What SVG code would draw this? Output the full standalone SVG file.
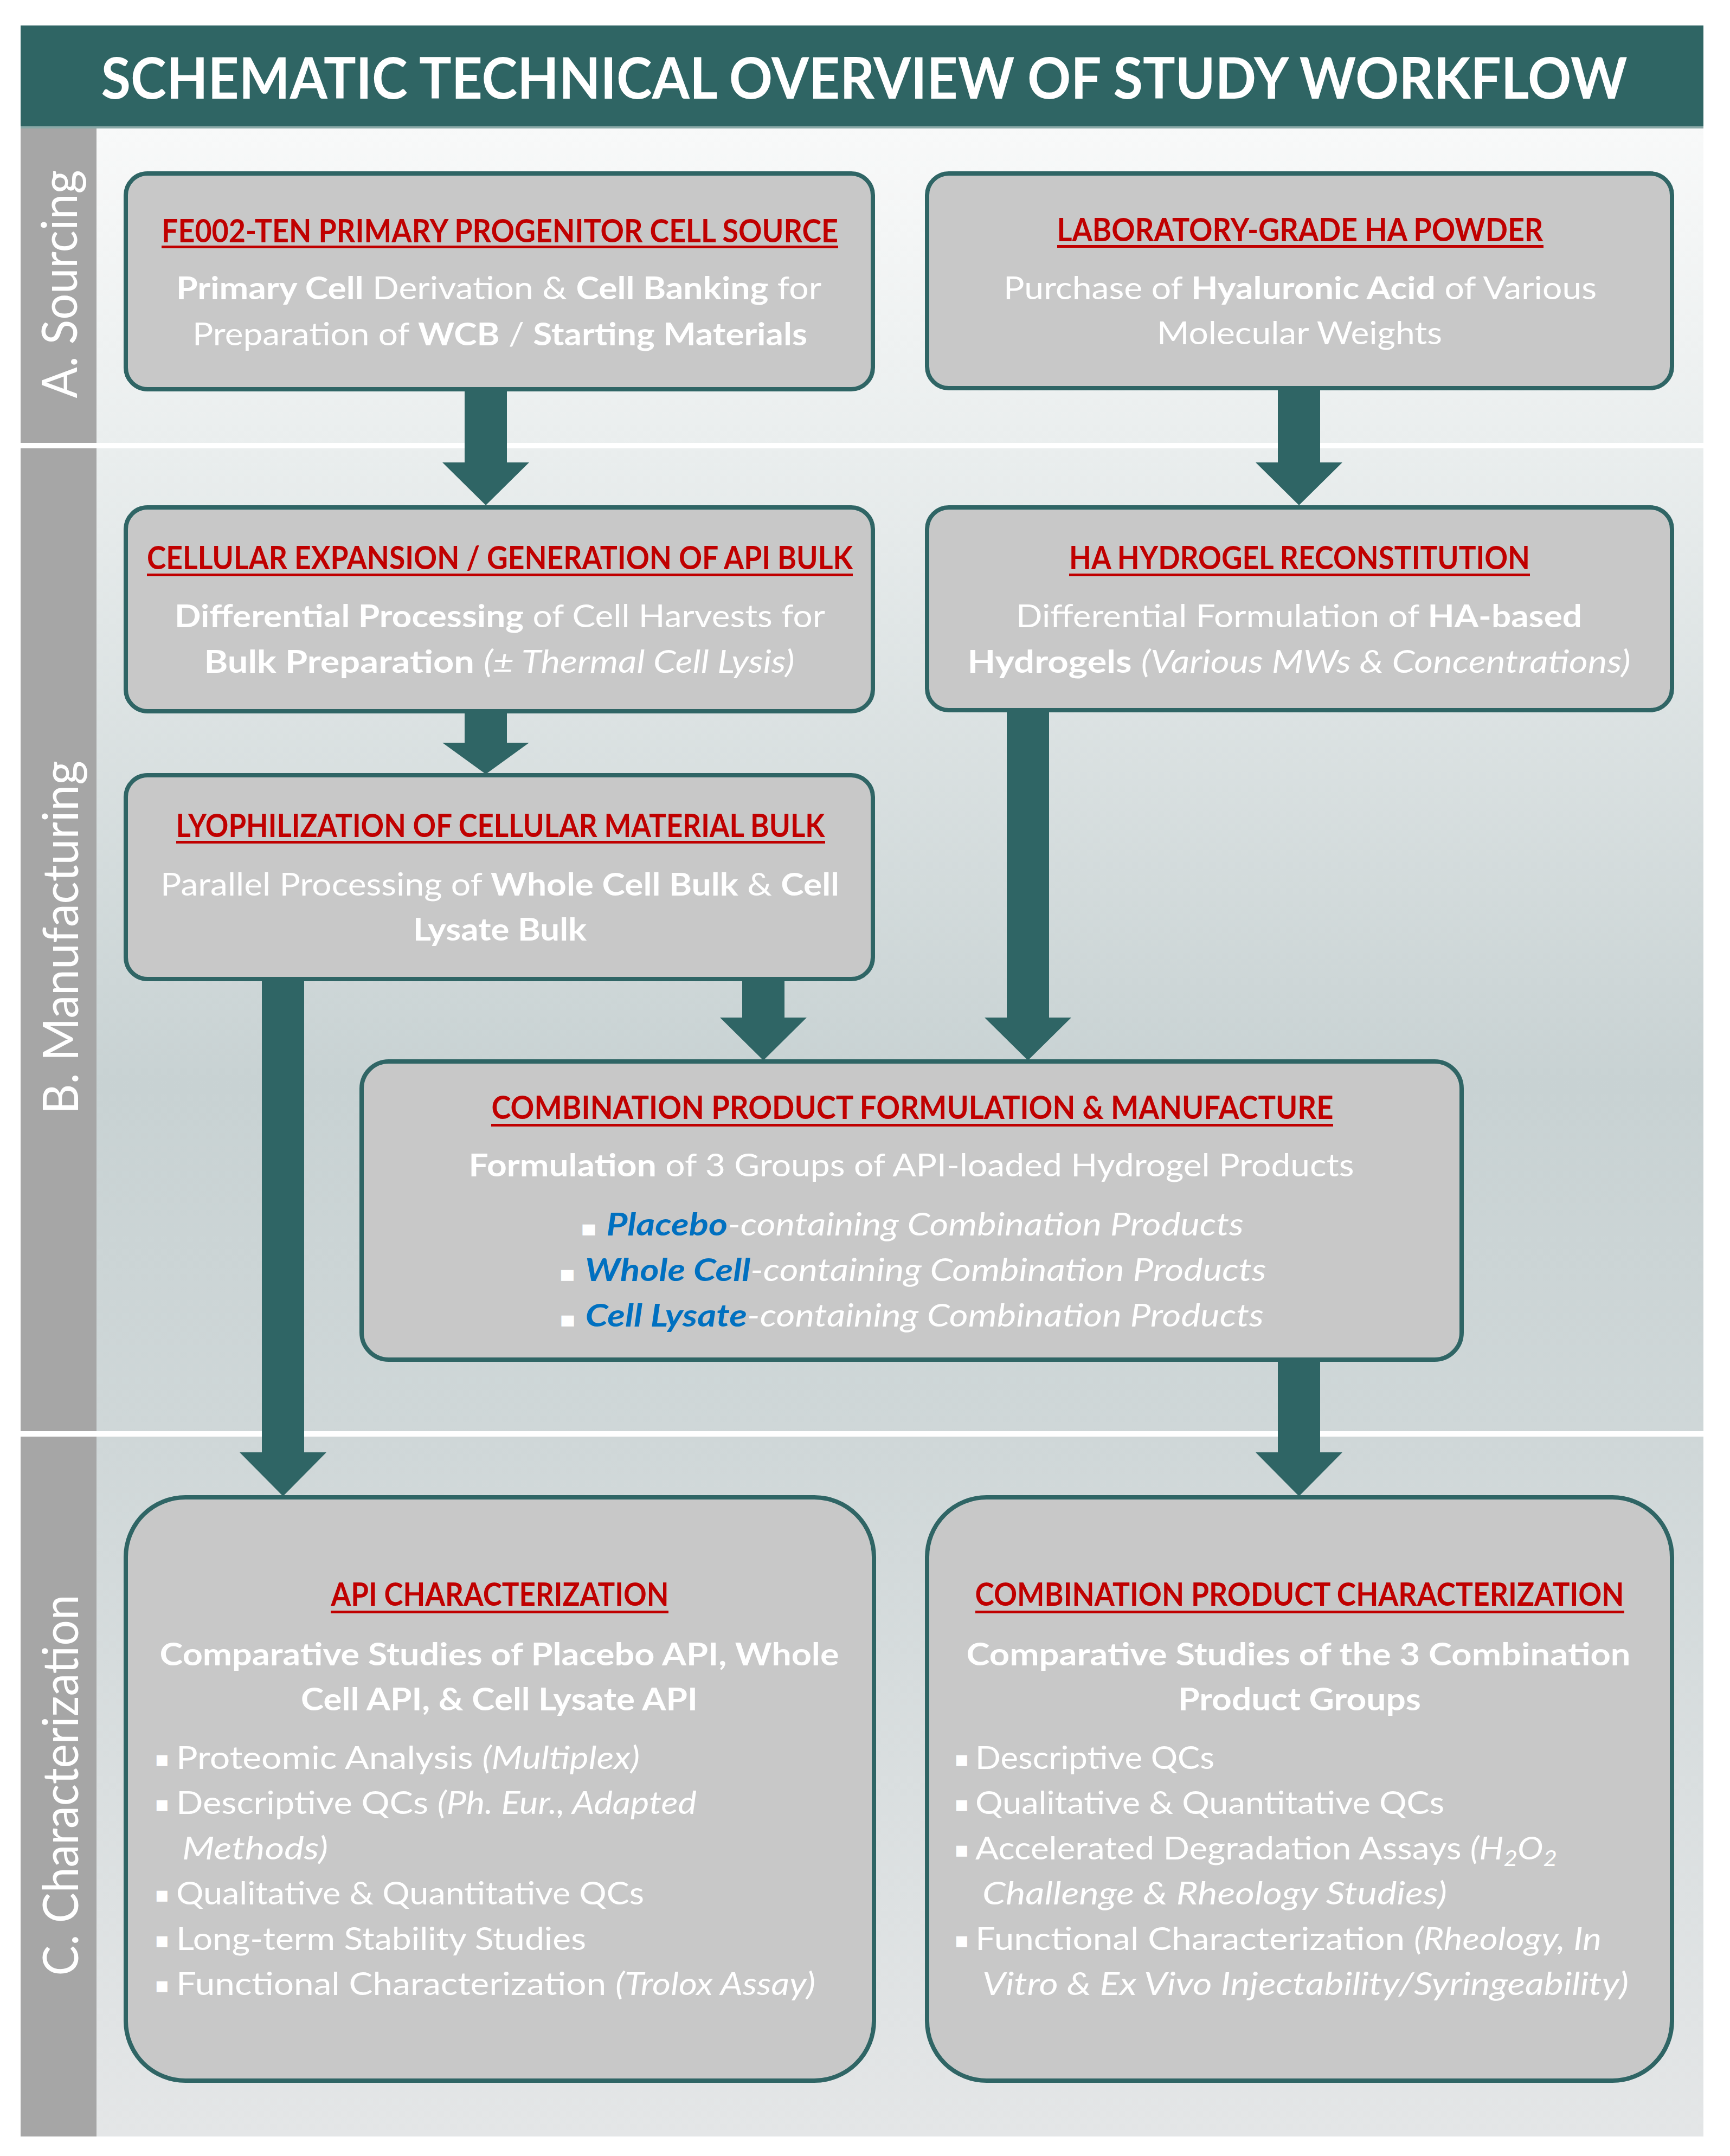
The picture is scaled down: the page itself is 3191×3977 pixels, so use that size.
<svg xmlns="http://www.w3.org/2000/svg" width="3191" height="3977" viewBox="0 0 3191 3977">
<defs>
<linearGradient id="bg" gradientUnits="userSpaceOnUse" x1="0" y1="236" x2="0" y2="3941">
<stop offset="0" stop-color="#f8f9f9"/>
<stop offset="0.158" stop-color="#eaeeee"/>
<stop offset="0.476" stop-color="#c8d2d3"/>
<stop offset="0.65" stop-color="#cfd7d8"/>
<stop offset="1" stop-color="#e4e6e7"/>
</linearGradient>
<style>
.t{font-family:Lato,'Open Sans',sans-serif;fill:#ffffff;font-size:58px}
.b{font-weight:700}
.i{font-style:italic}
.h{font-family:Lato,'Open Sans',sans-serif;font-weight:700;fill:#c00000;font-size:60px}
.bl{fill:#0070c0;font-weight:700;font-style:italic}
.box{fill:#c8c8c8;stroke:#2f6565;stroke-width:8}
.arrow{fill:#2f6565}
.ul{fill:#c00000}
.lab{font-family:Lato,'Noto Sans',sans-serif;fill:#ffffff;font-size:92px}
.bu{font-family:'DejaVu Sans',sans-serif;font-size:40px;fill:#ffffff}
.sub{font-size:40px}
</style>
</defs>
<rect x="0" y="0" width="3191" height="3977" fill="#ffffff"/>
<g id="background">
<rect x="38" y="236" width="3104" height="3705" fill="url(#bg)"/>
<rect x="38" y="236" width="140" height="581" fill="#a6a6a6"/>
<rect x="38" y="827" width="140" height="1813" fill="#a6a6a6"/>
<rect x="38" y="2650" width="140" height="1291" fill="#a6a6a6"/>
<rect x="38" y="817" width="3104" height="10" fill="#ffffff"/>
<rect x="38" y="2640" width="3104" height="10" fill="#ffffff"/>
</g>
<g id="header">
<rect x="38" y="47" width="3104" height="188" fill="#2f6564"/>
<rect x="38" y="233" width="3104" height="4" fill="#8aa9a7"/>
<text x="1594" y="182" text-anchor="middle" textLength="2815" lengthAdjust="spacingAndGlyphs" style="font-family:Lato,'Noto Sans',sans-serif;font-weight:700;font-size:106px;fill:#ffffff">SCHEMATIC TECHNICAL OVERVIEW OF STUDY WORKFLOW</text>
</g>
<g id="section-labels">
<text class="lab" transform="translate(142,524) rotate(-90)" text-anchor="middle" textLength="421" lengthAdjust="spacingAndGlyphs">A. Sourcing</text>
<text class="lab" transform="translate(144,1729) rotate(-90)" text-anchor="middle" textLength="652" lengthAdjust="spacingAndGlyphs">B. Manufacturing</text>
<text class="lab" transform="translate(144,3293) rotate(-90)" text-anchor="middle" textLength="703" lengthAdjust="spacingAndGlyphs">C. Characterization</text>
</g>
<g id="connectors">
<polygon class="arrow" points="857,718 935,718 935,853 976,853 896,932 816,853 857,853"/>
<polygon class="arrow" points="2357,716 2435,716 2435,853 2476,853 2396,932 2316,853 2357,853"/>
<polygon class="arrow" points="857,1312 935,1312 935,1370 976,1370 896,1428 816,1370 857,1370"/>
<polygon class="arrow" points="1369,1806 1447,1806 1447,1877 1488,1877 1408,1956 1328,1877 1369,1877"/>
<polygon class="arrow" points="1857,1310 1935,1310 1935,1877 1976,1877 1896,1956 1816,1877 1857,1877"/>
<polygon class="arrow" points="483,1806 561,1806 561,2679 602,2679 522,2760 442,2679 483,2679"/>
<polygon class="arrow" points="2357,2508 2435,2508 2435,2679 2476,2679 2396,2760 2316,2679 2357,2679"/>
</g>
<g id="node-a1">
<rect class="box" x="232" y="320" width="1378" height="398" rx="40"/>
<text class="h" x="922" y="447" text-anchor="middle" textLength="1248" lengthAdjust="spacingAndGlyphs">FE002-TEN PRIMARY PROGENITOR CELL SOURCE</text>
<rect class="ul" x="298" y="453" width="1248" height="5"/>
<text class="t" x="920" y="552" text-anchor="middle" textLength="1190" lengthAdjust="spacingAndGlyphs"><tspan class="b">Primary Cell</tspan> Derivation &amp; <tspan class="b">Cell Banking</tspan> for</text>
<text class="t" x="922" y="637" text-anchor="middle" textLength="1134" lengthAdjust="spacingAndGlyphs">Preparation of <tspan class="b">WCB</tspan> / <tspan class="b">Starting Materials</tspan></text>
</g>
<g id="node-a2">
<rect class="box" x="1710" y="320" width="1374" height="396" rx="40"/>
<text class="h" x="2398" y="445" text-anchor="middle" textLength="897" lengthAdjust="spacingAndGlyphs">LABORATORY-GRADE HA POWDER</text>
<rect class="ul" x="1950" y="452" width="897" height="5"/>
<text class="t" x="2398" y="552" text-anchor="middle" textLength="1094" lengthAdjust="spacingAndGlyphs">Purchase of <tspan class="b">Hyaluronic Acid</tspan> of Various</text>
<text class="t" x="2397" y="635" text-anchor="middle" textLength="526" lengthAdjust="spacingAndGlyphs">Molecular Weights</text>
</g>
<g id="node-b1">
<rect class="box" x="232" y="936" width="1378" height="376" rx="40"/>
<text class="h" x="922" y="1050" text-anchor="middle" textLength="1302" lengthAdjust="spacingAndGlyphs">CELLULAR EXPANSION / GENERATION OF API BULK</text>
<rect class="ul" x="271" y="1058" width="1302" height="5"/>
<text class="t" x="922" y="1157" text-anchor="middle" textLength="1200" lengthAdjust="spacingAndGlyphs"><tspan class="b">Differential Processing</tspan> of Cell Harvests for</text>
<text class="t" x="921" y="1241" text-anchor="middle" textLength="1089" lengthAdjust="spacingAndGlyphs"><tspan class="b">Bulk Preparation</tspan> <tspan class="i">(± Thermal Cell Lysis)</tspan></text>
</g>
<g id="node-b2">
<rect class="box" x="1710" y="936" width="1374" height="374" rx="40"/>
<text class="h" x="2397" y="1050" text-anchor="middle" textLength="850" lengthAdjust="spacingAndGlyphs">HA HYDROGEL RECONSTITUTION</text>
<rect class="ul" x="1972" y="1058" width="850" height="5"/>
<text class="t" x="2396" y="1157" text-anchor="middle" textLength="1044" lengthAdjust="spacingAndGlyphs">Differential Formulation of <tspan class="b">HA-based</tspan></text>
<text class="t" x="2396" y="1241" text-anchor="middle" textLength="1223" lengthAdjust="spacingAndGlyphs"><tspan class="b">Hydrogels</tspan> <tspan class="i">(Various MWs &amp; Concentrations)</tspan></text>
</g>
<g id="node-b3">
<rect class="box" x="232" y="1430" width="1378" height="376" rx="40"/>
<text class="h" x="923" y="1544" text-anchor="middle" textLength="1197" lengthAdjust="spacingAndGlyphs">LYOPHILIZATION OF CELLULAR MATERIAL BULK</text>
<rect class="ul" x="325" y="1551" width="1197" height="5"/>
<text class="t" x="922" y="1652" text-anchor="middle" textLength="1252" lengthAdjust="spacingAndGlyphs">Parallel Processing of <tspan class="b">Whole Cell Bulk</tspan> &amp; <tspan class="b">Cell</tspan></text>
<text class="t b" x="922" y="1735" text-anchor="middle" textLength="320" lengthAdjust="spacingAndGlyphs">Lysate Bulk</text>
</g>
<g id="node-combo">
<rect class="box" x="667" y="1958" width="2029" height="550" rx="50"/>
<text class="h" x="1683" y="2064" text-anchor="middle" textLength="1553" lengthAdjust="spacingAndGlyphs">COMBINATION PRODUCT FORMULATION &amp; MANUFACTURE</text>
<rect class="ul" x="906" y="2073" width="1553" height="5"/>
<text class="t" x="1681" y="2170" text-anchor="middle" textLength="1633" lengthAdjust="spacingAndGlyphs"><tspan class="b">Formulation</tspan> of 3 Groups of API-loaded Hydrogel Products</text>
<text class="t" x="1682" y="2279" text-anchor="middle" textLength="1224" lengthAdjust="spacingAndGlyphs"><tspan class="bu">▪</tspan> <tspan class="bl">Placebo</tspan><tspan class="i">-containing Combination Products</tspan></text>
<text class="t" x="1683" y="2363" text-anchor="middle" textLength="1305" lengthAdjust="spacingAndGlyphs"><tspan class="bu">▪</tspan> <tspan class="bl">Whole Cell</tspan><tspan class="i">-containing Combination Products</tspan></text>
<text class="t" x="1681" y="2447" text-anchor="middle" textLength="1300" lengthAdjust="spacingAndGlyphs"><tspan class="bu">▪</tspan> <tspan class="bl">Cell Lysate</tspan><tspan class="i">-containing Combination Products</tspan></text>
</g>
<g id="node-c1">
<rect class="box" x="232" y="2762" width="1380" height="1076" rx="110"/>
<text class="h" x="922" y="2962" text-anchor="middle" textLength="623" lengthAdjust="spacingAndGlyphs">API CHARACTERIZATION</text>
<rect class="ul" x="610" y="2971" width="623" height="5"/>
<text class="t b" x="921" y="3072" text-anchor="middle" textLength="1253" lengthAdjust="spacingAndGlyphs">Comparative Studies of Placebo API, Whole</text>
<text class="t b" x="921" y="3155" text-anchor="middle" textLength="732" lengthAdjust="spacingAndGlyphs">Cell API, &amp; Cell Lysate API</text>
<text class="bu" x="285" y="3258">▪</text>
<text class="t" x="325" y="3263" textLength="855" lengthAdjust="spacingAndGlyphs">Proteomic Analysis <tspan class="i">(Multiplex)</tspan></text>
<text class="bu" x="285" y="3341">▪</text>
<text class="t" x="325" y="3346" textLength="960" lengthAdjust="spacingAndGlyphs">Descriptive QCs <tspan class="i">(Ph. Eur., Adapted</tspan></text>
<text class="t i" x="336" y="3430" textLength="269" lengthAdjust="spacingAndGlyphs">Methods)</text>
<text class="bu" x="285" y="3508">▪</text>
<text class="t" x="325" y="3513" textLength="863" lengthAdjust="spacingAndGlyphs">Qualitative &amp; Quantitative QCs</text>
<text class="bu" x="285" y="3592">▪</text>
<text class="t" x="325" y="3597" textLength="756" lengthAdjust="spacingAndGlyphs">Long-term Stability Studies</text>
<text class="bu" x="285" y="3675">▪</text>
<text class="t" x="325" y="3680" textLength="1179" lengthAdjust="spacingAndGlyphs">Functional Characterization <tspan class="i">(Trolox Assay)</tspan></text>
</g>
<g id="node-c2">
<rect class="box" x="1710" y="2762" width="1374" height="1076" rx="110"/>
<text class="h" x="2397" y="2962" text-anchor="middle" textLength="1197" lengthAdjust="spacingAndGlyphs">COMBINATION PRODUCT CHARACTERIZATION</text>
<rect class="ul" x="1799" y="2971" width="1197" height="5"/>
<text class="t b" x="2395" y="3072" text-anchor="middle" textLength="1225" lengthAdjust="spacingAndGlyphs">Comparative Studies of the 3 Combination</text>
<text class="t b" x="2397" y="3155" text-anchor="middle" textLength="448" lengthAdjust="spacingAndGlyphs">Product Groups</text>
<text class="bu" x="1760" y="3258">▪</text>
<text class="t" x="1799" y="3263" textLength="441" lengthAdjust="spacingAndGlyphs">Descriptive QCs</text>
<text class="bu" x="1760" y="3341">▪</text>
<text class="t" x="1799" y="3346" textLength="865" lengthAdjust="spacingAndGlyphs">Qualitative &amp; Quantitative QCs</text>
<text class="bu" x="1760" y="3425">▪</text>
<text class="t" x="1799" y="3430" textLength="1073" lengthAdjust="spacingAndGlyphs">Accelerated Degradation Assays <tspan class="i">(H<tspan class="sub" dy="12">2</tspan><tspan dy="-12">O</tspan><tspan class="sub" dy="12">2</tspan></tspan></text>
<text class="t i" x="1812" y="3513" textLength="857" lengthAdjust="spacingAndGlyphs">Challenge &amp; Rheology Studies)</text>
<text class="bu" x="1760" y="3592">▪</text>
<text class="t" x="1799" y="3597" textLength="1155" lengthAdjust="spacingAndGlyphs">Functional Characterization <tspan class="i">(Rheology, In</tspan></text>
<text class="t i" x="1812" y="3680" textLength="1192" lengthAdjust="spacingAndGlyphs">Vitro &amp; Ex Vivo Injectability/Syringeability)</text>
</g>
</svg>
